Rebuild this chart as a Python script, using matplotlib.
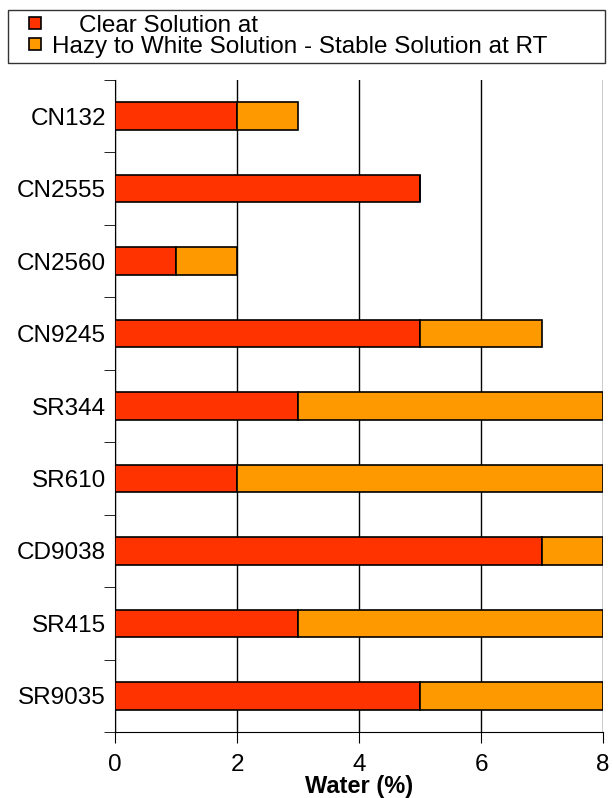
import matplotlib.pyplot as plt
from matplotlib.lines import Line2D
import numpy as np

plt.rcParams['font.family'] = ['Liberation Sans', 'DejaVu Sans']

# data
categorias = ['CN132', 'CN2555', 'CN2560', 'CN9245', 'SR344', 'SR610', 'CD9038', 'SR415', 'SR9035']
claro = [2, 5, 1, 5, 3, 2, 7, 3, 5]
turbio = [1, 0, 1, 2, 5, 6, 1, 5, 3]
series = ['    Clear Solution at', 'Hazy to White Solution - Stable Solution at RT']
colores = ['#FF3300', '#FF9900']

fig = plt.figure(figsize=(6.13, 7.98), dpi=100)
ax = fig.add_axes([115/613, 1 - 732/798, (603 - 115)/613, (732 - 80)/798])

y = np.arange(len(categorias))
alto = 0.38
ax.barh(y, claro, height=alto, color=colores[0], edgecolor='black', linewidth=1.2, zorder=3)
ax.barh(y, turbio, left=claro, height=alto, color=colores[1], edgecolor='black', linewidth=1.2, zorder=3)

ax.set_xlim(0, 8)
ax.set_ylim(len(categorias) - 0.5, -0.5)
ax.set_xticks([0, 2, 4, 6, 8])
ax.set_yticks(y)
ax.set_yticklabels(categorias, fontsize=17.5)
ax.set_yticks(np.arange(-0.5, len(categorias), 1), minor=True)
ax.tick_params(axis='y', which='major', length=0, pad=6.5)
ax.tick_params(axis='y', which='minor', length=8, direction='out')
ax.tick_params(axis='x', length=8, direction='out', labelsize=17.5, pad=8)
ax.set_xlabel('Water (%)', fontsize=17, fontweight='bold')
ax.xaxis.label.set_va('bottom')
ax.xaxis.set_label_coords(0.5, (0 - 66) / 652)

ax.grid(axis='x', color='black', linewidth=1, zorder=0)
ax.spines['top'].set_visible(False)
ax.spines['right'].set_visible(False)

handles = [Line2D([], [], linestyle='none', marker='s', markersize=9,
                  markerfacecolor=c, markeredgecolor='black', markeredgewidth=1.2)
           for c in colores]
leg = fig.legend(handles=handles, labels=series, loc='upper left',
                 bbox_to_anchor=(8/613, 1 - 10/798, (605 - 8)/613, 0), mode='expand',
                 fontsize=17.5, frameon=True, fancybox=False, edgecolor='black',
                 handlelength=1.8, handletextpad=-0.2,
                 labelspacing=-0.05, borderpad=0.2, borderaxespad=0)
leg.get_frame().set_linewidth(1)

plt.savefig('out.png', dpi=100)
